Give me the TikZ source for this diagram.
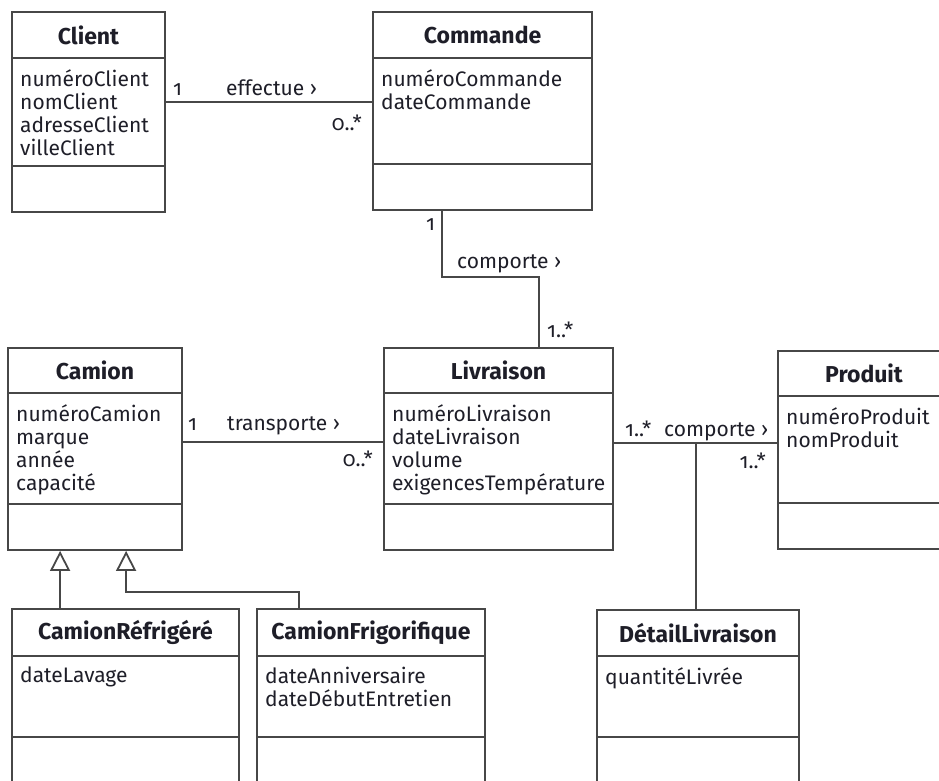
\documentclass[tikz,border=0pt]{standalone}
\usepackage{fontspec}
\setmainfont{Fira Sans}[Numbers=OldStyle]
\usetikzlibrary{fit,arrows.meta,calc}
\definecolor{linecol}{HTML}{474747}
\definecolor{txtcol}{HTML}{1E1E28}
\tikzset{
  clsbox/.style={draw=linecol, line width=1.8pt, inner sep=0pt, fill=white},
  divline/.style={draw=linecol, line width=1.8pt},
  clstitle/.style={font=\bfseries\fontsize{23}{26}\selectfont, text=txtcol, inner sep=0pt},
  clsattr/.style={font=\fontsize{21}{23}\selectfont, text=txtcol, align=left, inner sep=0pt, anchor=north west},
  lbl/.style={font=\fontsize{21}{23}\selectfont, text=txtcol, inner sep=0pt, anchor=base west},
  lblr/.style={lbl, anchor=base east},
  conn/.style={draw=linecol, line width=1.8pt},
  gen/.style={conn, -{Triangle[open, fill=white, length=20pt, width=20pt]}}
}
\newcommand\umlclass[9]{%
  \coordinate (#1-nw) at (#2,#3);
  \coordinate (#1-se) at (#4,#5);
  \node[clsbox, fit=(#1-nw)(#1-se)] (#1) {};
  \draw[divline] (#2,#6) -- (#4,#6);
  \draw[divline] (#2,#7) -- (#4,#7);
  \node[clstitle] (#1-title) at ({(#2+#4)/2},{(#3+#6)/2}) {#8};
  \node[clsattr] (#1-attr) at ({#2+8},{#6+11}) {#9};
}
\begin{document}
\begin{tikzpicture}[x=1pt,y=-1pt]
\path[use as bounding box, clip] (0,0) rectangle (939,780);
\fill[white] (0,0) rectangle (939,780);

\umlclass{Client}{12}{12}{165}{212}{58}{166}{Client}{numéroClient\\nomClient\\adresseClient\\villeClient}
\umlclass{Commande}{373}{12}{592}{210}{58}{164}{Commande}{numéroCommande\\dateCommande}
\umlclass{Camion}{8}{348}{182}{550}{393}{504}{Camion}{numéroCamion\\marque\\année\\capacité}
\umlclass{Livraison}{384}{348}{613}{550}{393}{504}{Livraison}{numéroLivraison\\dateLivraison\\volume\\exigencesTempérature}
\umlclass{Produit}{778}{351}{950}{549}{396}{503}{Produit}{numéroProduit\\nomProduit}
\umlclass{Refr}{12}{609}{239}{800}{656}{737}{CamionRéfrigéré}{dateLavage}
\umlclass{Frigo}{257}{609}{485}{800}{656}{737}{CamionFrigorifique}{dateAnniversaire\\dateDébutEntretien}
\umlclass{Detail}{597}{610}{799}{800}{656}{737}{DétailLivraison}{quantitéLivrée}

% Client -- Commande
\draw[conn] ([yshift=-91pt]Client.north east) -- ([yshift=-91pt]Commande.north west);
\node[lbl] (eff1) at (173,95) {1};
\node[lbl] (effl) at (226,95) {effectue ›};
\node[lblr] (eff2) at (362,130) {0..*};

% Commande -- Livraison
\coordinate (cmdmid) at (490,277);
\draw[conn] ([xshift=70pt]Commande.south west) |- (cmdmid) -| ([xshift=156pt]Livraison.north west);
\node[lbl] (cmp1) at (426,230) {1};
\node[lbl] (cmpl) at (457,268) {comporte ›};
\node[lbl] (cmp2) at (547,337) {1..*};

% Camion -- Livraison
\draw[conn] ([yshift=-95pt]Camion.north east) -- ([yshift=-95pt]Livraison.north west);
\node[lbl] (tr1) at (188,430) {1};
\node[lbl] (trl) at (227,430) {transporte ›};
\node[lblr] (tr2) at (373,466) {0..*};

% Livraison -- Produit
\draw[conn] ([yshift=-96pt]Livraison.north east) -- ([yshift=-93pt]Produit.north west);
\node[lbl] (lp1) at (625,436) {1..*};
\node[lbl] (lpl) at (664,436) {comporte ›};
\node[lblr] (lp2) at (766,468) {1..*};
\coordinate (assoc) at (696,444);
\draw[conn] (assoc) -- (assoc |- Detail.north);

% generalisation
\draw[gen] ([xshift=49pt]Refr.north west) -- ([xshift=53pt]Camion.south west);
\coordinate (gbend) at (200,592);
\draw[gen] ([xshift=43pt]Frigo.north west) |- (gbend) -| ([xshift=119pt]Camion.south west);
\end{tikzpicture}
\end{document}
